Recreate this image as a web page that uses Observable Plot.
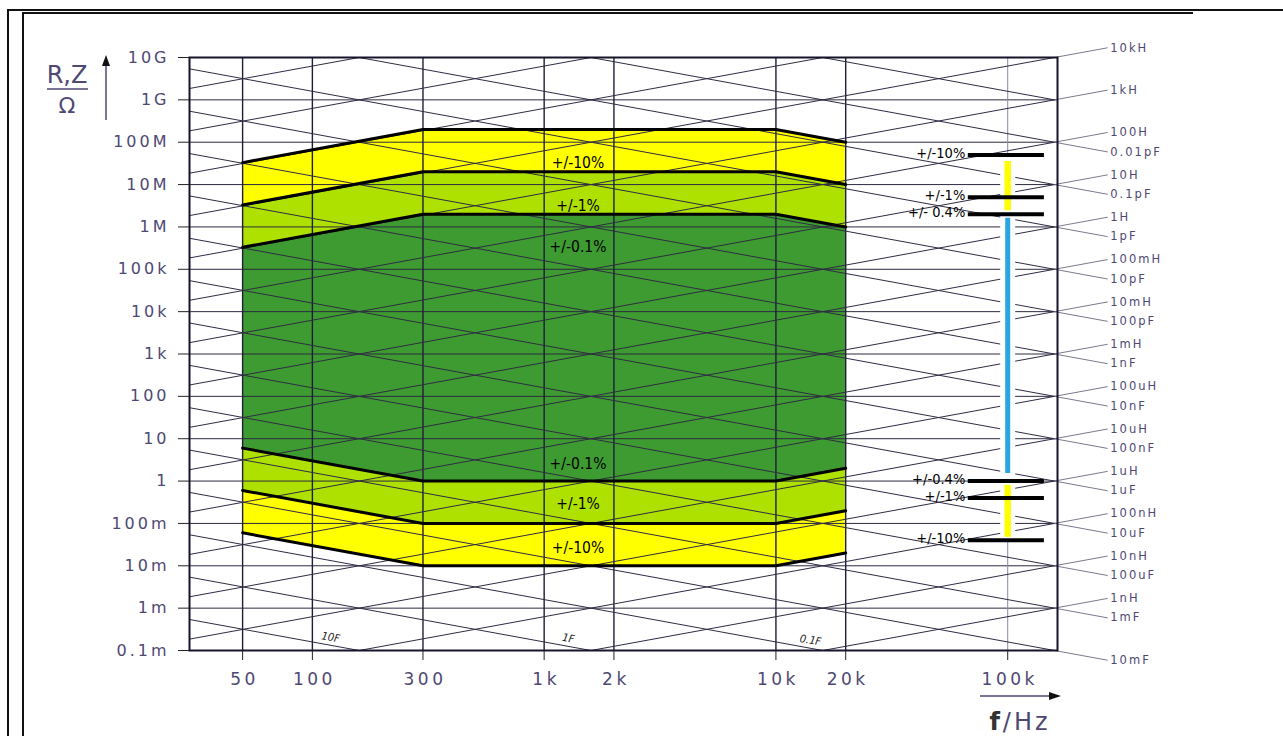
<!DOCTYPE html>
<html><head><meta charset="utf-8">
<script src="https://cdn.jsdelivr.net/npm/d3@7"></script>
<script src="https://cdn.jsdelivr.net/npm/@observablehq/plot@0.6"></script>
<style>
html,body{margin:0;padding:0;background:#fff;overflow:hidden;}
#wrap{position:relative;width:1283px;height:736px;overflow:hidden;background:#fff;}
#chart{position:absolute;left:0;top:0;}
.b{position:absolute;background:#111;z-index:2;}
</style></head><body>
<div id="wrap">
<div id="chart"></div>
<div class="b" style="left:7px;top:9px;width:1276px;height:1.5px"></div>
<div class="b" style="left:7px;top:9px;width:1.5px;height:727px"></div>
<div class="b" style="left:22px;top:12px;width:1171px;height:2px"></div>
<div class="b" style="left:22px;top:12px;width:2px;height:724px"></div>
</div>
<script>
// ---- axis ticks ----
const xTicks = [50, 100, 300, 1000, 2000, 10000, 20000, 100000];
const xTickLabels = ["50", "100", "300", "1k", "2k", "10k", "20k", "100k"];
const yTicks = [1e-4, 1e-3, 1e-2, 1e-1, 1, 10, 100, 1e3, 1e4, 1e5, 1e6, 1e7, 1e8, 1e9, 1e10];
const yTickLabels = ["0.1m", "1m", "10m", "100m", "1", "10", "100", "1k", "10k", "100k", "1M", "10M", "100M", "1G", "10G"];

// ---- accuracy bands (frequency Hz, impedance Ohm) ----
const bandFreqs = [50, 300, 10000, 20000];
const top10 = [3.3e7, 2e8, 2e8, 1e8];
const top1 = [3.3e6, 2e7, 2e7, 1e7];
const top01 = [3.3e5, 2e6, 2e6, 1e6];
const bot01 = [6, 1, 1, 2];
const bot1 = [0.6, 0.1, 0.1, 0.2];
const bot10 = [0.06, 0.01, 0.01, 0.02];
const bandLabelFreq = 1400;
const bandLabelZ = [3.2e7, 3.2e6, 3.3e5, 2.5, 0.28, 0.026];
const bandLabelText = ["+/-10%", "+/-1%", "+/-0.1%", "+/-0.1%", "+/-1%", "+/-10%"];

// ---- 100 kHz accuracy column ----
const colFreq = 100000;
const colSegTop = [3.5e7, 1.6e6, 0.79];
const colSegBottom = [2.4e6, 1.5, 0.047];
const colSegBand = ["10%", "0.4%", "10%"];
const colMarks = [5e7, 5e6, 2e6, 1, 0.4, 0.04];
const colMarkLabels = ["+/-10%", "+/-1%", "+/- 0.4%", "+/-0.4%", "+/-1%", "+/-10%"];

// ---- inductance / capacitance reference lines ----
const lValues = [1e-9, 1e-8, 1e-7, 1e-6, 1e-5, 1e-4, 1e-3, 1e-2, 1e-1, 1, 10, 100, 1e3, 1e4];
const lLabels = ["1nH", "10nH", "100nH", "1uH", "10uH", "100uH", "1mH", "10mH", "100mH", "1H", "10H", "100H", "1kH", "10kH"];
const lExtra = [1e5, 1e6, 1e7];
const cValues = [1e-2, 1e-3, 1e-4, 1e-5, 1e-6, 1e-7, 1e-8, 1e-9, 1e-10, 1e-11, 1e-12, 1e-13, 1e-14];
const cLabels = ["10mF", "1mF", "100uF", "10uF", "1uF", "100nF", "10nF", "1nF", "100pF", "10pF", "1pF", "0.1pF", "0.01pF"];
const cExtra = [1e-15, 0.1, 1, 10];
const cInnerValues = [10, 1, 0.1];
const cInnerLabels = ["10F", "1F", "0.1F"];
const cInnerFreqs = [120, 1270, 14100];

// ---- scales / geometry ----
const xDomain = [29.5, 164000];
const yDomain = [1e-4, 1e10];
const f0 = 1e6 / (2 * Math.PI);
const extFactor = 1.69;
const zL = (f, L) => 2 * Math.PI * f * L;
const zC = (f, C) => 1 / (2 * Math.PI * f * C);

const lattice = [];
lValues.concat(lExtra).forEach((L, i) => {
  lattice.push({f: xDomain[0], z: zL(xDomain[0], L), id: "L" + i});
  lattice.push({f: f0, z: zL(f0, L), id: "L" + i});
});
cValues.concat(cExtra).forEach((C, i) => {
  lattice.push({f: xDomain[0], z: zC(xDomain[0], C), id: "C" + i});
  lattice.push({f: f0, z: zC(f0, C), id: "C" + i});
});
const leaders = [];
const leaderLabels = [];
lValues.forEach((L, i) => {
  leaders.push({f: f0, z: zL(f0, L), id: "L" + i});
  leaders.push({f: f0 * extFactor, z: zL(f0 * extFactor, L), id: "L" + i});
  leaderLabels.push({f: f0 * extFactor, z: zL(f0 * extFactor, L), t: lLabels[i]});
});
cValues.forEach((C, i) => {
  leaders.push({f: f0, z: zC(f0, C), id: "C" + i});
  leaders.push({f: f0 * extFactor, z: zC(f0 * extFactor, C), id: "C" + i});
  leaderLabels.push({f: f0 * extFactor, z: zC(f0 * extFactor, C), t: cLabels[i]});
});
const innerLabels = cInnerValues.map((C, i) => ({f: cInnerFreqs[i], z: zC(cInnerFreqs[i], C), t: cInnerLabels[i]}));

const bands = bandFreqs.map((f, i) => ({f, t10: top10[i], t1: top1[i], t01: top01[i], b01: bot01[i], b1: bot1[i], b10: bot10[i]}));
const bounds = [];
["t10", "t1", "t01", "b01", "b1", "b10"].forEach(k => bands.forEach(d => bounds.push({f: d.f, z: d[k], id: k})));
const colSegs = colSegTop.map((t, i) => ({top: t, bottom: colSegBottom[i], band: colSegBand[i]}));

const yLab = new Map(yTicks.map((d, i) => [d, yTickLabels[i]]));

const ink = "#4e4872";
const lineInk = "#2f2c44";
const narrow = "DejaVu Sans Condensed, DejaVu Sans, sans-serif";

const plot = Plot.plot({
  width: 1283, height: 736,
  marginLeft: 189, marginRight: 226, marginTop: 57, marginBottom: 86,
  x: {type: "log", domain: xDomain},
  y: {type: "log", domain: yDomain},
  style: {fontFamily: "DejaVu Sans, sans-serif", background: "transparent"},
  marks: [
    Plot.areaY(bands, {x: "f", y1: "b10", y2: "t10", fill: "#ffff00"}),
    Plot.areaY(bands, {x: "f", y1: "b1", y2: "t1", fill: "#aee000"}),
    Plot.areaY(bands, {x: "f", y1: "b01", y2: "t01", fill: "#3e9b31"}),
    Plot.ruleY(yTicks, {stroke: "#2d2b40", strokeWidth: 1}),
    Plot.ruleX(xTicks.filter(d => d !== colFreq), {stroke: "#1e1d3a", strokeWidth: 1.4}),
    Plot.ruleX([colFreq], {stroke: "#8a87a8", strokeWidth: 1}),
    Plot.line(lattice, {x: "f", y: "z", z: "id", stroke: lineInk, strokeWidth: 1, clip: true}),
    Plot.line(leaders, {x: "f", y: "z", z: "id", stroke: "#6d6a80", strokeWidth: 0.9}),
    Plot.text(leaderLabels, {x: "f", y: "z", text: "t", textAnchor: "start", dx: 3, fontSize: 11.5, fill: ink}),
    Plot.text(innerLabels, {x: "f", y: "z", text: "t", dy: -8, rotate: 10, fontSize: 11, fontStyle: "italic", fill: "#222", fontFamily: narrow}),
    Plot.line(bounds, {x: "f", y: "z", z: "id", stroke: "#000", strokeWidth: 3}),
    Plot.text(bandLabelZ, {x: () => bandLabelFreq, y: d => d, text: (d, i) => bandLabelText[i], fontSize: 15.5, fill: "#000", fontFamily: narrow}),
    // 100 kHz column
    Plot.ruleX([colFreq], {y1: colMarks[0], y2: colMarks[colMarks.length - 1], stroke: "white", strokeWidth: 15}),
    Plot.ruleX(colSegs.filter(d => d.band === "10%"), {x: () => colFreq, y1: "top", y2: "bottom", stroke: "#ffff00", strokeWidth: 6.5}),
    Plot.ruleX(colSegs.filter(d => d.band === "0.4%"), {x: () => colFreq, y1: "top", y2: "bottom", stroke: "#2aa6df", strokeWidth: 5}),
    Plot.ruleY(colMarks, {x1: colFreq * 0.676, x2: colFreq * 1.44, stroke: "#000", strokeWidth: 4}),
    Plot.text(colMarks, {x: colFreq * 0.676, y: d => d, text: (d, i) => colMarkLabels[i], textAnchor: "end", dx: -3, dy: -2, fontSize: 14.5, fill: "#000", fontFamily: narrow}),
    Plot.frame({stroke: "#15142a", strokeWidth: 2}),
    Plot.axisY({ticks: yTicks, tickFormat: d => yLab.get(d), tickSize: 11, tickPadding: 9, fontSize: 16, stroke: "#222", fill: ink, label: null}),
    Plot.axisX({ticks: xTicks, tickFormat: () => "", tickSize: 10, stroke: "#222", label: null}),
    Plot.text(xTicks, {x: d => d, text: (d, i) => xTickLabels[i], frameAnchor: "bottom", dy: 34, fontSize: 17, fill: ink})
  ]
});
document.getElementById("chart").appendChild(plot);

const svg = d3.select(plot);
svg.selectAll('g[aria-label="y-axis tick label"] text').style("letter-spacing", "3px");
const xSet = new Set(xTickLabels);
const lcSet = new Set(lLabels.concat(cLabels));
svg.selectAll("text").each(function () {
  if (this.closest('g[aria-label="y-axis tick label"]')) return;
  const t = this.textContent;
  if (xSet.has(t)) d3.select(this).style("letter-spacing", "3.5px").attr("dx", 2);
  else if (lcSet.has(t)) d3.select(this).style("letter-spacing", "2px");
});

// axis titles and arrows
const g = svg.append("g").attr("fill", ink);
g.append("text").attr("x", 67).attr("y", 83).attr("text-anchor", "middle").attr("font-size", 24).text("R,Z");
g.append("line").attr("x1", 47).attr("x2", 88).attr("y1", 89).attr("y2", 89).attr("stroke", ink).attr("stroke-width", 1.5);
g.append("text").attr("x", 67).attr("y", 113).attr("text-anchor", "middle").attr("font-size", 22).text("Ω");
g.append("line").attr("x1", 106).attr("x2", 106).attr("y1", 120).attr("y2", 64).attr("stroke", ink).attr("stroke-width", 1.5);
g.append("path").attr("d", "M106,55 L102,66 L110,66 Z").attr("fill", "#111");
g.append("line").attr("x1", 980).attr("x2", 1050).attr("y1", 696).attr("y2", 696).attr("stroke", ink).attr("stroke-width", 1.5);
g.append("path").attr("d", "M1061,696 L1049,692 L1049,700 Z").attr("fill", "#111");
const fh = g.append("text").attr("x", 1020).attr("y", 730).attr("text-anchor", "middle").attr("font-size", 24).style("letter-spacing", "3px");
fh.append("tspan").attr("font-weight", "bold").attr("fill", "#333").text("f");
fh.append("tspan").text("/Hz");
</script>
</body></html>
